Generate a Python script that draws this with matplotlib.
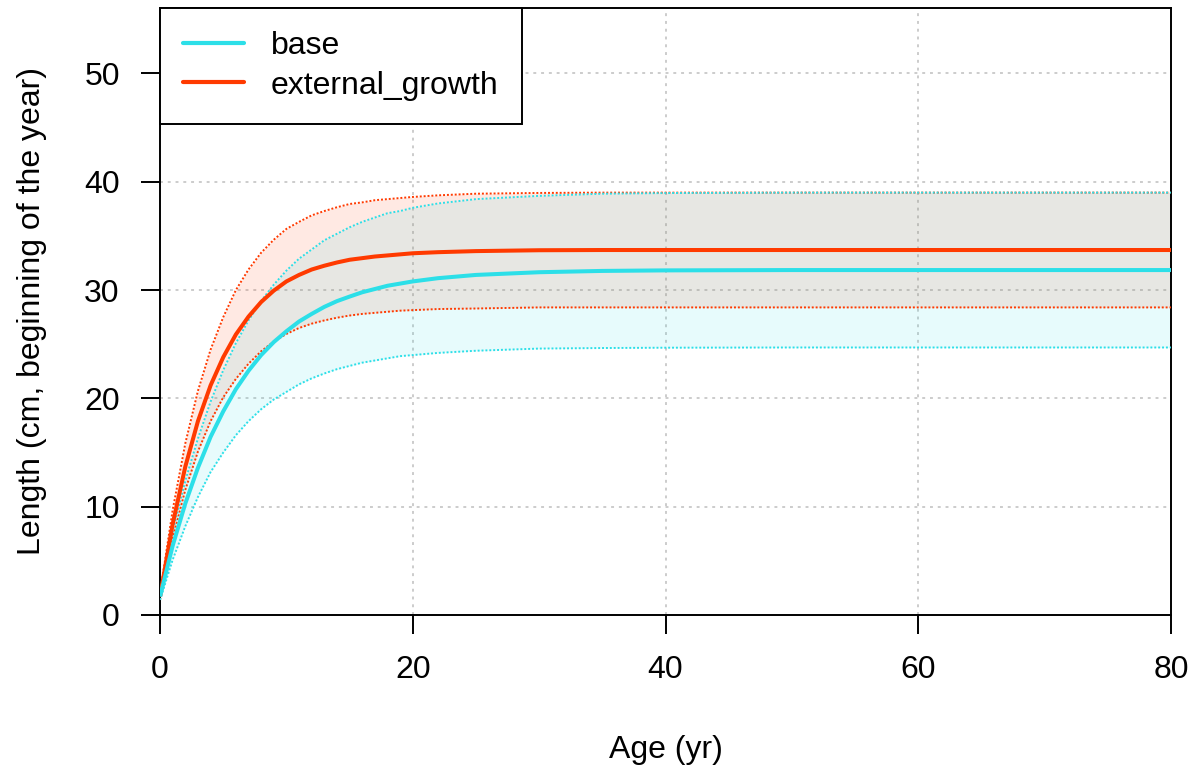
import matplotlib
matplotlib.use("Agg")
import matplotlib.pyplot as plt

ages = [0, 1, 2, 3, 4, 5, 6, 7, 8, 9, 10, 11, 12, 13, 14, 15, 16, 17, 18, 19,
        20, 22, 25, 30, 35, 40, 50, 60, 70, 80]

# base model: mean length and the lower / upper interval
base_mean = [1.7, 6.4, 10.3, 13.6, 16.45, 18.8, 20.85, 22.55, 24.0, 25.2,
             26.2, 27.1, 27.8, 28.45, 28.98, 29.4, 29.8, 30.1, 30.4, 30.6,
             30.8, 31.1, 31.4, 31.65, 31.77, 31.82, 31.85, 31.85, 31.85, 31.85]
base_upper = [2.0, 7.7, 12.4, 16.3, 19.7, 22.6, 25.1, 27.2, 29.0, 30.5,
              31.8, 32.9, 33.75, 34.6, 35.2, 35.8, 36.3, 36.7, 37.1, 37.3,
              37.6, 38.0, 38.4, 38.7, 38.9, 38.96, 39.0, 39.0, 39.0, 39.0]
base_lower = [1.4, 5.1, 8.2, 10.9, 13.2, 15.0, 16.6, 17.9, 19.0, 19.9,
              20.6, 21.3, 21.85, 22.3, 22.7, 23.0, 23.3, 23.5, 23.7, 23.9,
              24.0, 24.2, 24.4, 24.6, 24.65, 24.68, 24.7, 24.7, 24.7, 24.7]

# external_growth model
ext_mean = [1.7, 8.4, 13.7, 17.9, 21.2, 23.8, 25.9, 27.55, 28.9, 29.95,
            30.8, 31.4, 31.9, 32.25, 32.55, 32.8, 32.95, 33.1, 33.2, 33.3,
            33.4, 33.5, 33.6, 33.68, 33.7, 33.7, 33.7, 33.7, 33.7, 33.7]
ext_upper = [2.0, 9.7, 15.85, 20.7, 24.5, 27.5, 30.0, 31.9, 33.45, 34.65,
             35.65, 36.3, 36.9, 37.3, 37.65, 37.95, 38.1, 38.3, 38.4, 38.5,
             38.6, 38.75, 38.9, 38.97, 39.0, 39.0, 39.0, 39.0, 39.0, 39.0]
ext_lower = [1.4, 7.1, 11.55, 15.1, 17.9, 20.1, 21.8, 23.2, 24.35, 25.25,
             25.95, 26.5, 26.9, 27.2, 27.45, 27.65, 27.8, 27.9, 28.0, 28.1,
             28.15, 28.25, 28.3, 28.4, 28.4, 28.4, 28.4, 28.4, 28.4, 28.4]

model_names = ["base", "external_growth"]
x_ticks = [0, 20, 40, 60, 80]
y_ticks = [0, 10, 20, 30, 40, 50]

CYAN = "#2CDFE8"
RED = "#FF3A00"
FS = 23


def draw_model(ax, mean, lower, upper, color, label):
    """Shaded interval, dotted bounds and a thick mean line for one model."""
    ax.fill_between(ages, lower, upper, color=color, alpha=0.11, lw=0, zorder=2)
    ax.plot(ages, upper, color=color, lw=1.4, ls=(0, (1, 1)), zorder=3)
    ax.plot(ages, lower, color=color, lw=1.4, ls=(0, (1, 1)), zorder=3)
    ax.plot(ages, mean, color=color, lw=2.9, label=label, zorder=4,
            solid_capstyle="butt")


def main():
    plt.rcParams["font.family"] = ["Liberation Sans", "DejaVu Sans"]

    fig = plt.figure(figsize=(11.97, 7.73), dpi=100)
    ax = fig.add_axes([0.1337, 0.2044, 0.9783 - 0.1337, 0.9897 - 0.2044])

    # light dotted grid underneath everything
    for x in x_ticks[1:-1]:
        ax.axvline(x, color="#cccccc", lw=1.4, ls=(0, (1.5, 2.5)), zorder=1)
    for y in y_ticks[1:]:
        ax.axhline(y, color="#cccccc", lw=1.4, ls=(0, (1.5, 2.5)), zorder=1)

    # red first, then cyan so the overlap goes grey
    draw_model(ax, ext_mean, ext_lower, ext_upper, RED, model_names[1])
    draw_model(ax, base_mean, base_lower, base_upper, CYAN, model_names[0])

    ax.set_xlim(0, 80)
    ax.set_ylim(0, 56.05)
    ax.set_xticks(x_ticks)
    ax.set_yticks(y_ticks)
    ax.tick_params(direction="out", length=14, width=1.4, labelsize=FS)
    ax.tick_params(axis="x", pad=15)
    ax.tick_params(axis="y", pad=15)
    for sp in ax.spines.values():
        sp.set_linewidth(1.4)

    ax.set_xlabel("Age (yr)", fontsize=FS, labelpad=36)
    ax.set_ylabel("Length (cm, beginning of the year)", fontsize=FS,
                  labelpad=27)

    # legend in the top-left corner, base listed first
    handles, labels = ax.get_legend_handles_labels()
    order = [labels.index(n) for n in model_names]
    leg = ax.legend([handles[i] for i in order], [labels[i] for i in order],
                    loc="upper left", bbox_to_anchor=(0, 1), borderaxespad=0,
                    fontsize=FS, fancybox=False, framealpha=1,
                    edgecolor="black", handlelength=1.9, handletextpad=0.85,
                    borderpad=0.72, labelspacing=0.3)
    leg.get_frame().set_linewidth(1.4)
    for line in leg.get_lines():
        line.set_linewidth(3.0)
        line.set_solid_capstyle("round")

    fig.savefig("out.png", dpi=100)


if __name__ == "__main__":
    main()
